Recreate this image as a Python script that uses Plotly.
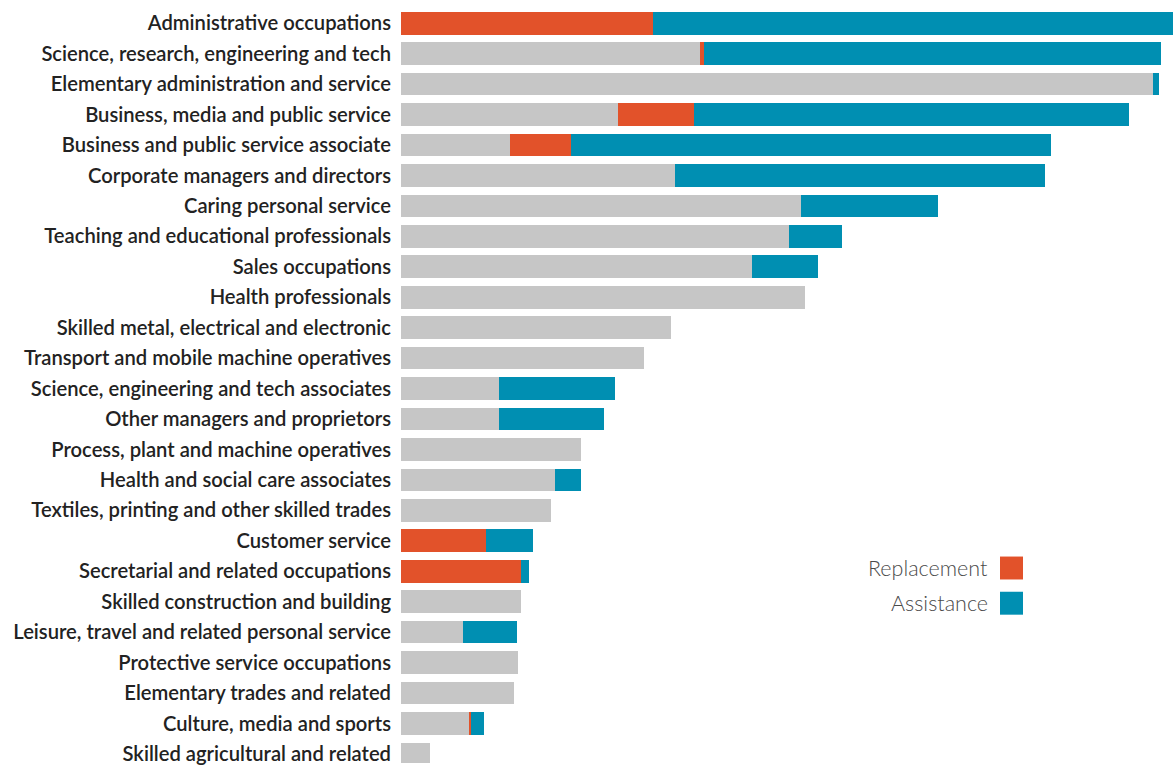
import plotly.graph_objects as go

# Occupation groups, top to bottom
categories = [
    "Administrative occupations",
    "Science, research, engineering and tech",
    "Elementary administration and service",
    "Business, media and public service",
    "Business and public service associate",
    "Corporate managers and directors",
    "Caring personal service",
    "Teaching and educational professionals",
    "Sales occupations",
    "Health professionals",
    "Skilled metal, electrical and electronic",
    "Transport and mobile machine operatives",
    "Science, engineering and tech associates",
    "Other managers and proprietors",
    "Process, plant and machine operatives",
    "Health and social care associates",
    "Textiles, printing and other skilled trades",
    "Customer service",
    "Secretarial and related occupations",
    "Skilled construction and building",
    "Leisure, travel and related personal service",
    "Protective service occupations",
    "Elementary trades and related",
    "Culture, media and sports",
    "Skilled agricultural and related",
]

# Stacked segments per occupation
other = [0, 299, 752, 217, 109, 274, 400, 388, 351, 404, 270, 243, 98, 98,
         180, 154, 150, 0, 0, 120, 62, 117, 113, 68, 29]
replacement = [252, 3.7, 0, 76, 61, 0, 0, 0, 0, 0, 0, 0, 0, 0,
               0, 0, 0, 84.7, 120, 0, 0, 0, 0, 2, 0]
assistance = [520, 457, 6, 435, 480, 370, 137, 53, 66, 0, 0, 0, 116, 105,
              0, 26, 0, 47.3, 8, 0, 54, 0, 0, 13, 0]

legend_labels = ["Replacement", "Assistance"]

GREY = "#C6C6C6"
RED = "#E2522A"
BLUE = "#008FB2"

W, H = 1173, 765
L = 401

fig = go.Figure()
for vals, col in [(other, GREY), (replacement, RED), (assistance, BLUE)]:
    fig.add_trace(go.Bar(
        y=categories, x=vals, orientation="h",
        marker=dict(color=col, line=dict(width=0)),
        showlegend=False, hoverinfo="skip",
    ))

# Hand-built legend: label to the left of a coloured square
def px_to_paper_x(px):
    return (px - L) / (W - L)

def px_to_paper_y(py):
    return 1 - py / H

for i, (lab, col) in enumerate(zip(legend_labels, [RED, BLUE])):
    top = 558 + i * 35.3
    fig.add_shape(
        type="rect", xref="paper", yref="paper",
        x0=px_to_paper_x(1000), x1=px_to_paper_x(1023),
        y0=px_to_paper_y(top + 23), y1=px_to_paper_y(top),
        fillcolor=col, line=dict(width=0),
    )
    fig.add_annotation(
        xref="paper", yref="paper",
        x=px_to_paper_x(990), y=px_to_paper_y(top + 11.5),
        text=lab, showarrow=False, xanchor="right", yanchor="middle",
        font=dict(family="Lato", size=21.5, color="#4A4A4A", weight=300),
    )

fig.update_layout(
    width=W, height=H,
    margin=dict(l=L, r=0, t=0, b=0),
    barmode="stack", bargap=0.256,
    plot_bgcolor="white", paper_bgcolor="white",
    xaxis=dict(range=[0, W - L], visible=False, fixedrange=True),
    yaxis=dict(
        range=[24.30, -0.765], showgrid=False, zeroline=False,
        showline=False, ticks="", ticklabelstandoff=9,
        tickfont=dict(family="Lato", size=20.2, color="#222222", weight=600),
    ),
)

fig.write_html("out.html")
